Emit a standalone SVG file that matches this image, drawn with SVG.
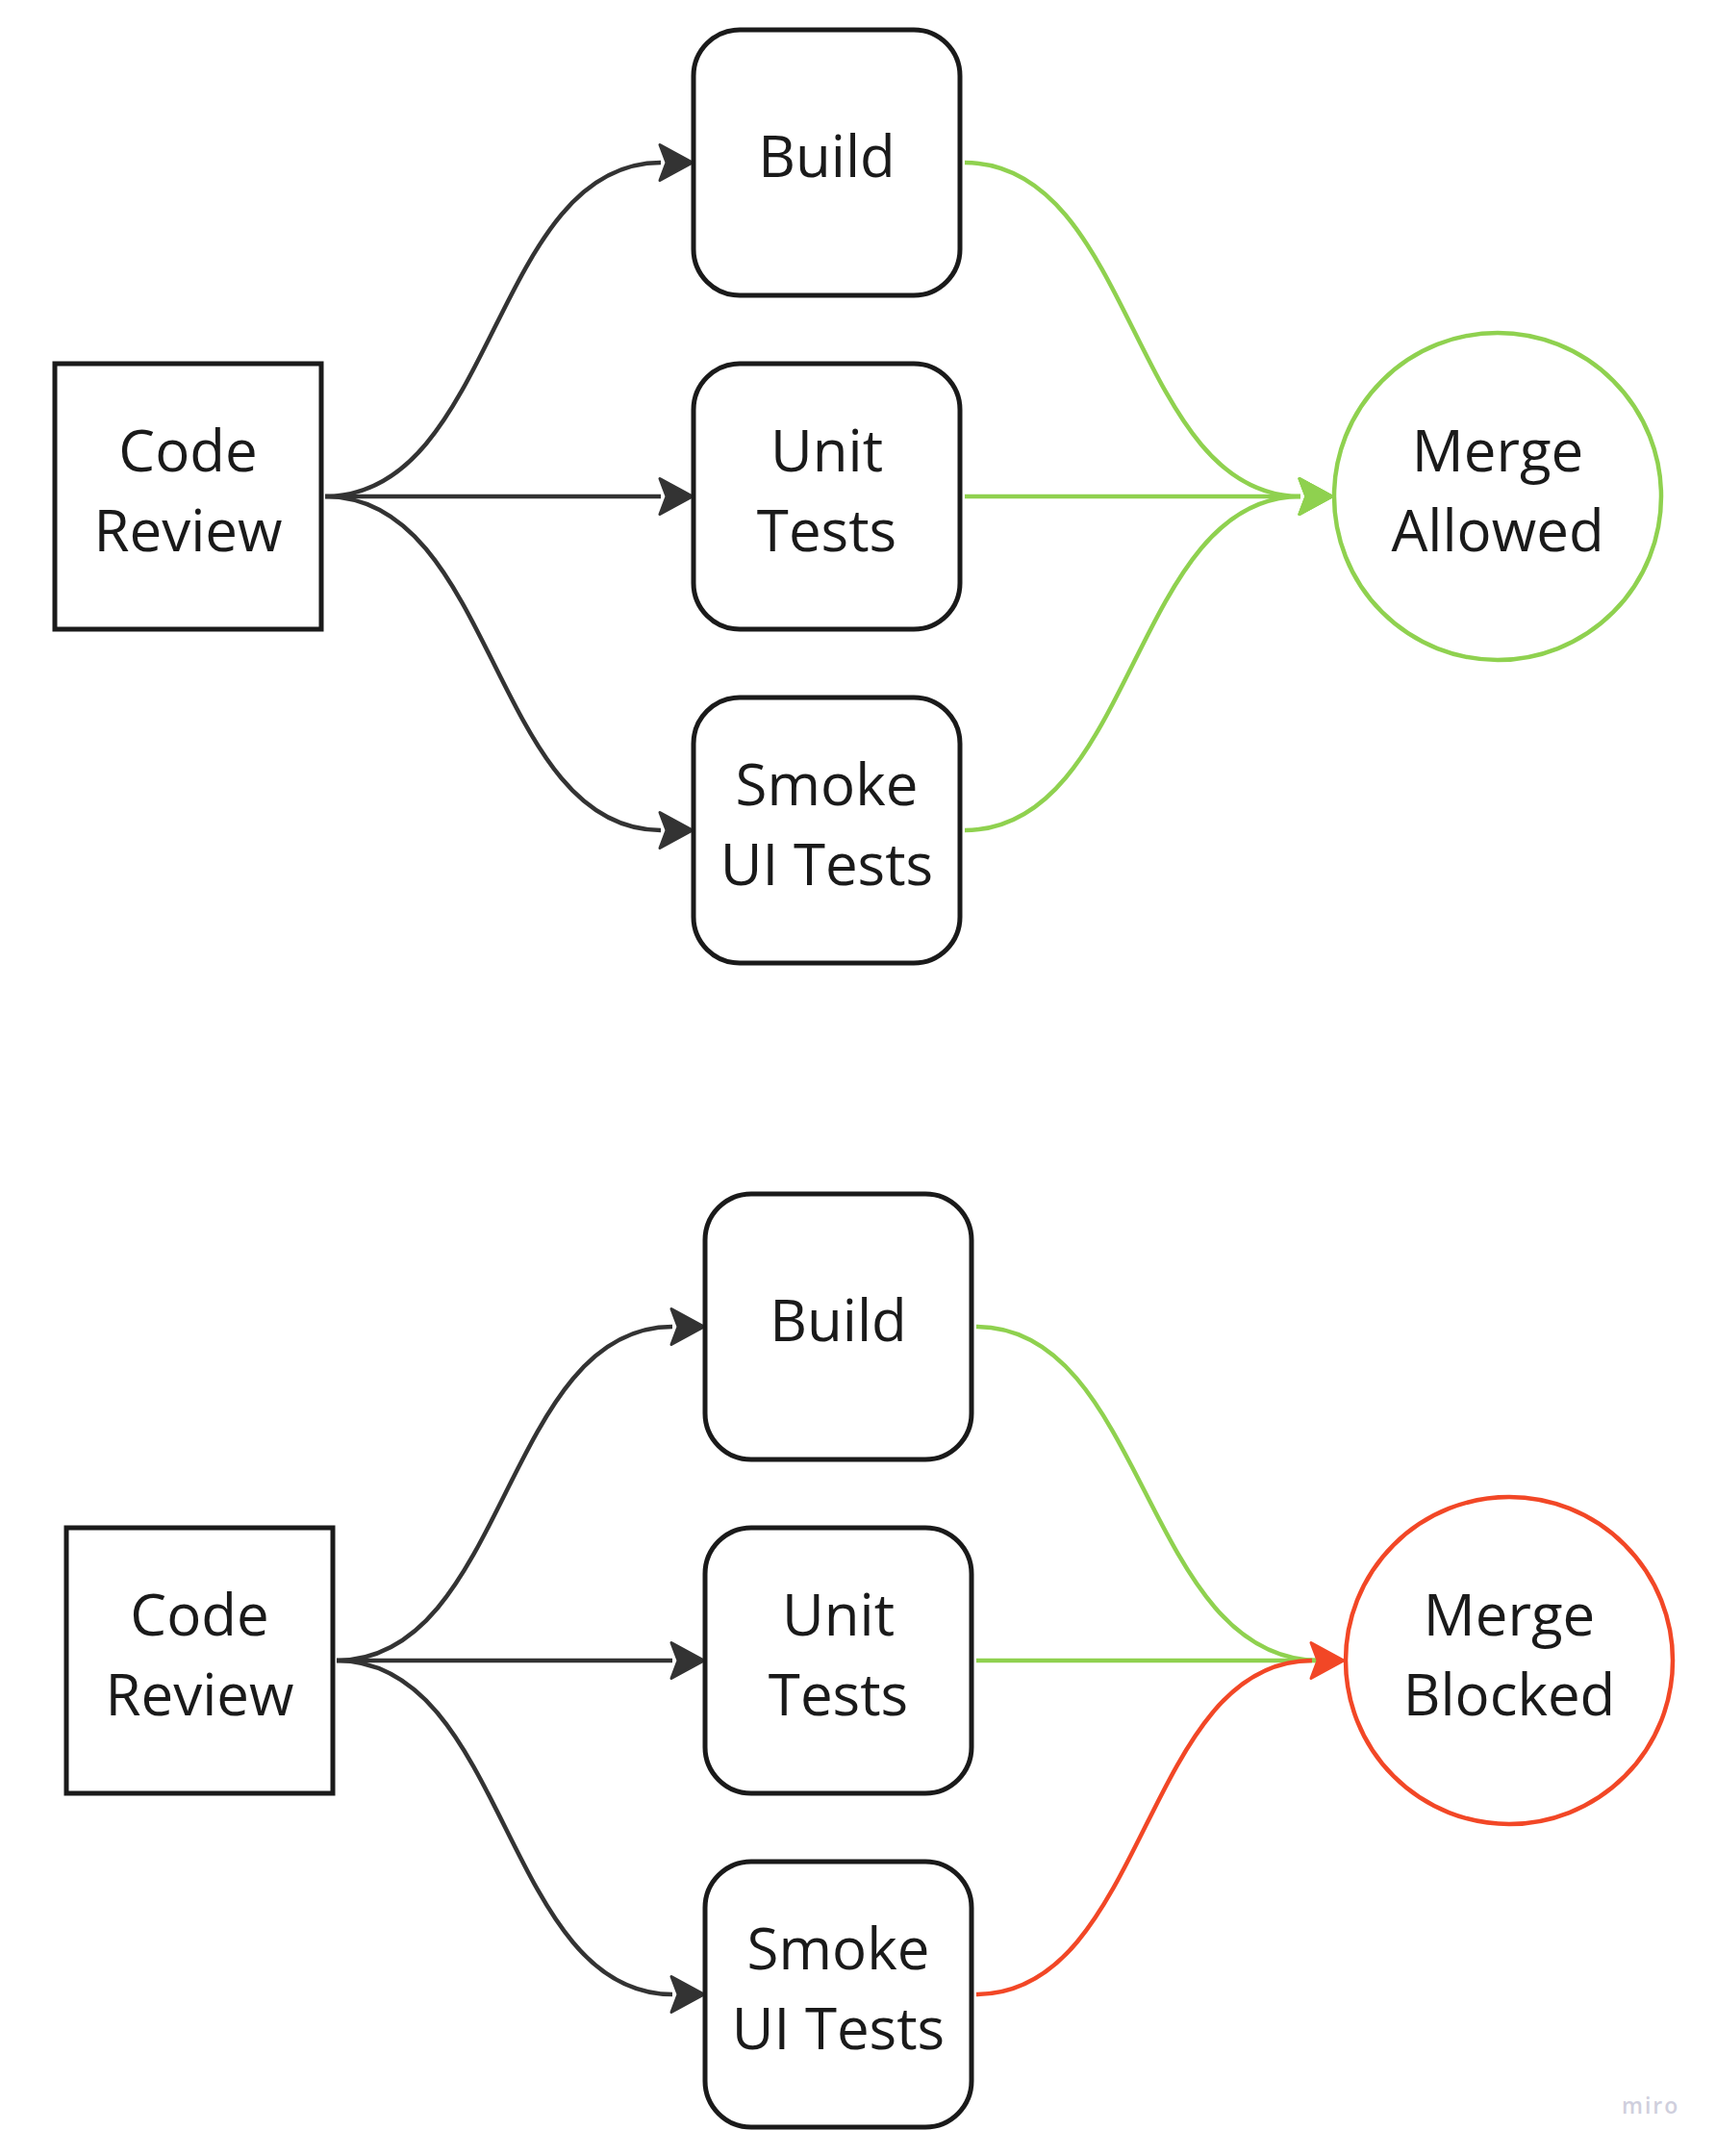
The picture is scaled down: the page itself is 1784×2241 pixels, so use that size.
<svg xmlns="http://www.w3.org/2000/svg" width="1784" height="2241" viewBox="0 0 1784 2241">
  <style>
    .box { fill: #ffffff; stroke: #1a1a1a; stroke-width: 5; }
    .label { font-family: "Open Sans", "Liberation Sans", sans-serif; font-size: 60px; fill: #1a1a1a; text-anchor: middle; }
    .conn { fill: none; stroke-width: 4.5; }
    .dark { stroke: #333333; }
    .green { stroke: #8fd14f; }
    .red { stroke: #f24726; }
    .ok { fill: #ffffff; stroke: #8fd14f; stroke-width: 4.5; }
    .bad { fill: #ffffff; stroke: #f24726; stroke-width: 4.5; }
    .wm { font-family: "Open Sans", "Liberation Sans", sans-serif; font-size: 23px; font-weight: 600; letter-spacing: 2px; fill: #cfcfdd; }
  </style>
  <defs>
    <marker id="ah-dark" viewBox="-42 -26 46 52" refX="-34" refY="0" markerWidth="46" markerHeight="52" markerUnits="userSpaceOnUse" orient="auto">
      <path d="M-1,0 L-35,-18.5 L-28,0 L-35,18.5 Z" fill="#333333" stroke="#333333" stroke-width="3" stroke-linejoin="round"/>
    </marker>
    <marker id="ah-green" viewBox="-42 -26 46 52" refX="-34" refY="0" markerWidth="46" markerHeight="52" markerUnits="userSpaceOnUse" orient="auto">
      <path d="M-1,0 L-35,-18.5 L-28,0 L-35,18.5 Z" fill="#8fd14f" stroke="#8fd14f" stroke-width="3" stroke-linejoin="round"/>
    </marker>
    <marker id="ah-red" viewBox="-42 -26 46 52" refX="-34" refY="0" markerWidth="46" markerHeight="52" markerUnits="userSpaceOnUse" orient="auto">
      <path d="M-1,0 L-35,-18.5 L-28,0 L-35,18.5 Z" fill="#f24726" stroke="#f24726" stroke-width="3" stroke-linejoin="round"/>
    </marker>
  </defs>
  <rect width="1784" height="2241" fill="#ffffff"/>

  <!-- Top diagram -->
  <g id="top-connectors">
    <path class="conn dark" d="M338,516 C515,516 512,169 687,169" marker-end="url(#ah-dark)"/>
    <path class="conn dark" d="M338,516 L687,516" marker-end="url(#ah-dark)"/>
    <path class="conn dark" d="M338,516 C515,516 512,863 687,863" marker-end="url(#ah-dark)"/>
    <path class="conn green" d="M1003,169 C1180,169 1177,516 1352,516" marker-end="url(#ah-green)"/>
    <path class="conn green" d="M1003,516 L1352,516" marker-end="url(#ah-green)"/>
    <path class="conn green" d="M1003,863 C1180,863 1177,516 1352,516" marker-end="url(#ah-green)"/>
  </g>
  <g id="top-code-review">
    <rect class="box" x="57" y="378" width="277" height="276"/>
    <text class="label" x="195.5" y="490">Code</text>
    <text class="label" x="195.5" y="573">Review</text>
  </g>
  <g id="top-build">
    <rect class="box" x="721" y="31" width="277" height="276" rx="48" ry="48"/>
    <text class="label" x="859.5" y="184">Build</text>
  </g>
  <g id="top-unit-tests">
    <rect class="box" x="721" y="378" width="277" height="276" rx="48" ry="48"/>
    <text class="label" x="859.5" y="490">Unit</text>
    <text class="label" x="859.5" y="573">Tests</text>
  </g>
  <g id="top-smoke-ui-tests">
    <rect class="box" x="721" y="725" width="277" height="276" rx="48" ry="48"/>
    <text class="label" x="859.5" y="837">Smoke</text>
    <text class="label" x="859.5" y="920">UI Tests</text>
  </g>
  <g id="top-merge-allowed">
    <circle class="ok" cx="1557" cy="516" r="170"/>
    <text class="label" x="1557" y="490">Merge</text>
    <text class="label" x="1557" y="573">Allowed</text>
  </g>

  <!-- Bottom diagram -->
  <g transform="translate(12,1210)">
    <g id="bottom-connectors">
      <path class="conn dark" d="M338,516 C515,516 512,169 687,169" marker-end="url(#ah-dark)"/>
      <path class="conn dark" d="M338,516 L687,516" marker-end="url(#ah-dark)"/>
      <path class="conn dark" d="M338,516 C515,516 512,863 687,863" marker-end="url(#ah-dark)"/>
      <path class="conn green" d="M1003,169 C1180,169 1177,516 1360,516"/>
      <path class="conn green" d="M1003,516 L1360,516"/>
      <path class="conn red" d="M1003,863 C1180,863 1177,516 1352,516" marker-end="url(#ah-red)"/>
    </g>
    <g id="bottom-code-review">
      <rect class="box" x="57" y="378" width="277" height="276"/>
      <text class="label" x="195.5" y="490">Code</text>
      <text class="label" x="195.5" y="573">Review</text>
    </g>
    <g id="bottom-build">
      <rect class="box" x="721" y="31" width="277" height="276" rx="48" ry="48"/>
      <text class="label" x="859.5" y="184">Build</text>
    </g>
    <g id="bottom-unit-tests">
      <rect class="box" x="721" y="378" width="277" height="276" rx="48" ry="48"/>
      <text class="label" x="859.5" y="490">Unit</text>
      <text class="label" x="859.5" y="573">Tests</text>
    </g>
    <g id="bottom-smoke-ui-tests">
      <rect class="box" x="721" y="725" width="277" height="276" rx="48" ry="48"/>
      <text class="label" x="859.5" y="837">Smoke</text>
      <text class="label" x="859.5" y="920">UI Tests</text>
    </g>
    <g id="bottom-merge-blocked">
      <circle class="bad" cx="1557" cy="516" r="170"/>
      <text class="label" x="1557" y="490">Merge</text>
      <text class="label" x="1557" y="573">Blocked</text>
    </g>
  </g>

  <text class="wm" x="1686" y="2197">miro</text>
</svg>
